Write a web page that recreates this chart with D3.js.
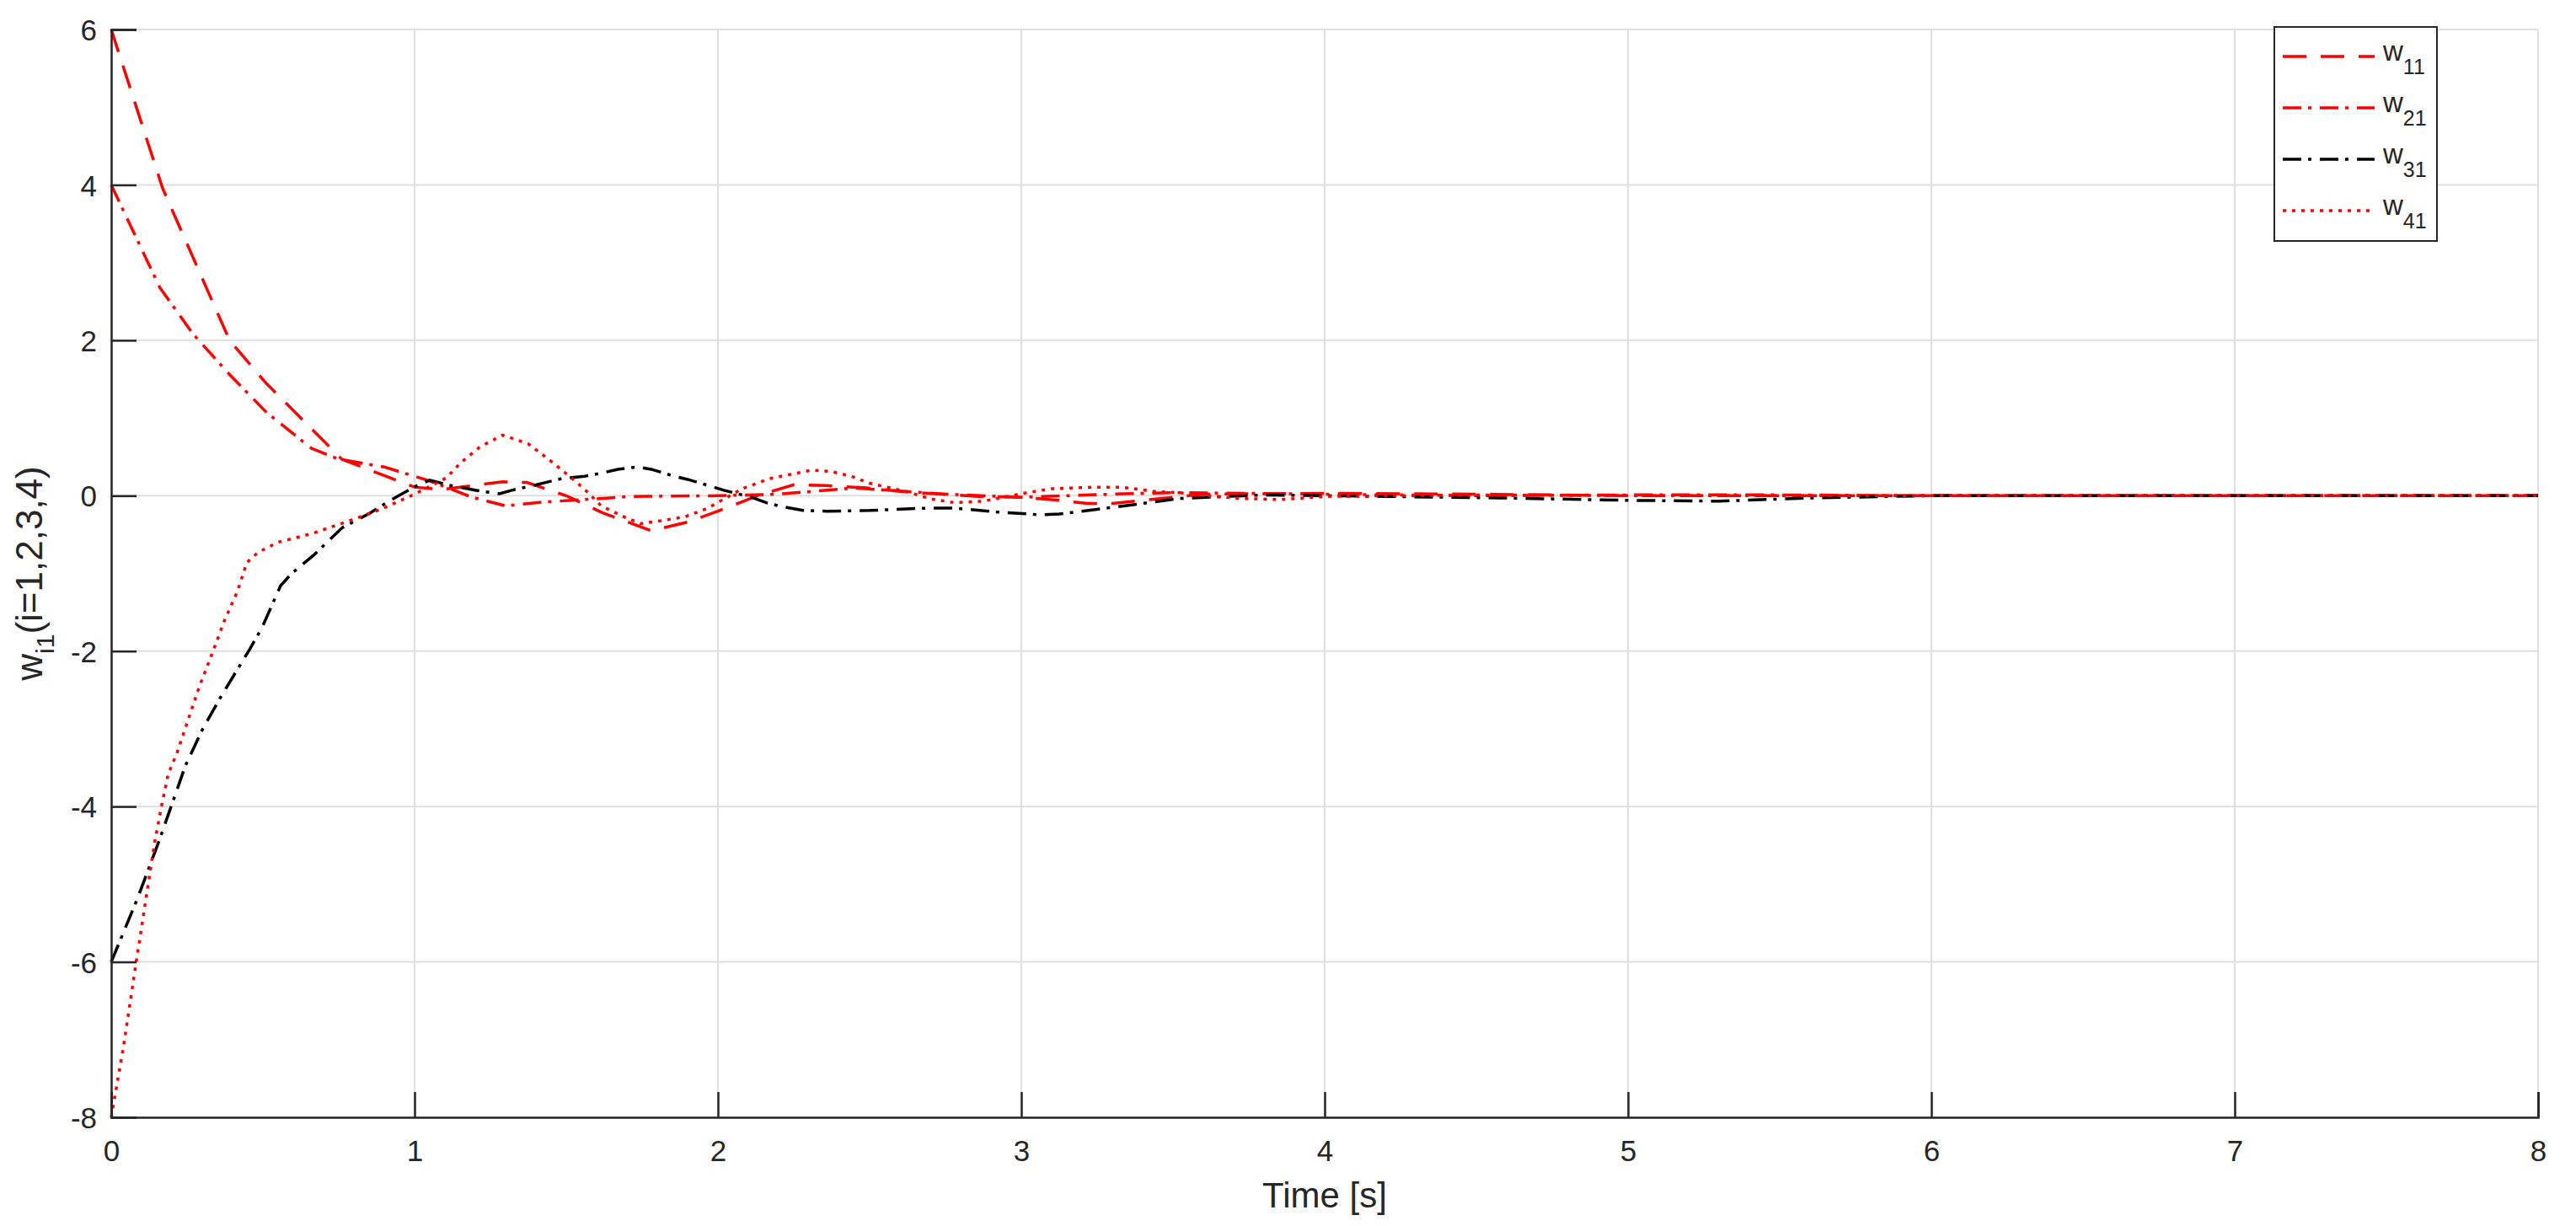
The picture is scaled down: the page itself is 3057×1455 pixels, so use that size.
<!DOCTYPE html>
<html>
<head>
<meta charset="utf-8">
<script src="https://d3js.org/d3.v7.min.js"></script>
<style>
  body { margin: 0; background: #fff; }
  svg text { font-family: "Liberation Sans", Arial, Helvetica, sans-serif; fill: #262626; }
</style>
</head>
<body>
<div id="container"></div>
<script>
var width = 3057;
var height = 1455;

// data
var t11 = [0, 0.17, 0.39, 0.51, 0.76, 1.0, 1.09, 1.29, 1.37, 1.5, 1.62, 1.78, 1.9, 2.0, 2.13, 2.25, 2.36, 2.49, 2.62, 2.74, 2.86, 3.0, 3.1, 3.22, 3.3, 3.45, 3.6, 4.0, 4.5, 5.0, 6.0, 7.0, 8.0];
var w11 = [6, 3.95, 2.0, 1.45, 0.47, 0.11, 0.08, 0.18, 0.17, 0.0, -0.22, -0.45, -0.34, -0.2, 0.0, 0.14, 0.13, 0.1, 0.05, 0.02, -0.01, -0.02, -0.05, -0.1, -0.1, -0.04, 0.02, 0.03, 0.02, 0.0, 0.0, 0, 0];

var t21 = [0, 0.16, 0.27, 0.39, 0.51, 0.66, 0.75, 0.9, 1.05, 1.19, 1.3, 1.43, 1.56, 1.71, 2.0, 2.2, 2.36, 2.45, 2.6, 2.75, 3.0, 3.3, 3.5, 4.0, 4.5, 5, 5.5, 6, 8];
var w21 = [4, 2.68, 2.08, 1.56, 1.08, 0.61, 0.47, 0.37, 0.19, -0.02, -0.13, -0.08, -0.05, -0.01, 0.0, 0.02, 0.07, 0.1, 0.06, 0.02, -0.02, 0.02, 0.04, 0.02, 0, 0.01, 0.01, 0, 0];

var t31 = [0, 0.086, 0.156, 0.211, 0.244, 0.299, 0.364, 0.456, 0.498, 0.558, 0.595, 0.669, 0.762, 0.855, 0.92, 1.003, 1.05, 1.12, 1.2, 1.28, 1.32, 1.39, 1.485, 1.56, 1.615, 1.67, 1.735, 1.78, 1.856, 1.9, 1.986, 2.02, 2.11, 2.16, 2.21, 2.28, 2.36, 2.5, 2.69, 2.78, 2.92, 3.06, 3.125, 3.2, 3.29, 3.38, 3.52, 3.8, 4.2, 4.6, 5.0, 5.3, 5.6, 6.0, 8];
var w31 = [-6, -5.19, -4.46, -3.85, -3.48, -3.02, -2.57, -1.98, -1.69, -1.16, -1.0, -0.76, -0.41, -0.22, -0.06, 0.12, 0.2, 0.13, 0.07, 0.025, 0.07, 0.13, 0.22, 0.25, 0.29, 0.34, 0.37, 0.34, 0.25, 0.21, 0.11, 0.07, -0.02, -0.09, -0.14, -0.19, -0.2, -0.19, -0.16, -0.16, -0.21, -0.245, -0.235, -0.2, -0.155, -0.11, -0.036, 0.01, -0.01, -0.03, -0.06, -0.07, -0.03, 0, 0];

var t41 = [0, 0.04, 0.082, 0.105, 0.123, 0.142, 0.165, 0.188, 0.216, 0.253, 0.29, 0.327, 0.373, 0.415, 0.447, 0.484, 0.549, 0.66, 0.78, 0.892, 1.0, 1.105, 1.151, 1.216, 1.29, 1.374, 1.448, 1.504, 1.559, 1.615, 1.689, 1.745, 1.8, 1.893, 1.967, 2.03, 2.08, 2.17, 2.31, 2.375, 2.44, 2.5, 2.625, 2.7, 2.78, 2.875, 3.02, 3.1, 3.245, 3.33, 3.45, 3.52, 3.7, 3.85, 4.0, 4.5, 5, 8];
var w41 = [-8, -7.1, -6.01, -5.43, -4.97, -4.49, -4.01, -3.58, -3.32, -2.89, -2.46, -2.09, -1.61, -1.24, -0.86, -0.73, -0.6, -0.49, -0.33, -0.17, 0.02, 0.23, 0.42, 0.63, 0.78, 0.67, 0.45, 0.27, 0.09, -0.13, -0.27, -0.36, -0.33, -0.27, -0.16, -0.02, 0.09, 0.22, 0.33, 0.31, 0.25, 0.16, 0.05, -0.04, -0.09, -0.07, 0.04, 0.09, 0.11, 0.11, 0.05, 0.04, -0.03, -0.05, -0.01, 0.01, 0, 0];

var xTicks = [0, 1, 2, 3, 4, 5, 6, 7, 8];
var yTicks = [-8, -6, -4, -2, 0, 2, 4, 6];
var legendSubs = ["11", "21", "31", "41"];

var series = [
    {sub: legendSubs[0], t: t11, v: w11, color: "#ff0000", dash: "28,17"},
    {sub: legendSubs[1], t: t21, v: w21, color: "#ff0000", dash: "22,8,4,10"},
    {sub: legendSubs[2], t: t31, v: w31, color: "#000000", dash: "22,8,4,10"},
    {sub: legendSubs[3], t: t41, v: w41, color: "#ff0000", dash: "4,7"}
];

var svg = d3.select("div#container").append("svg")
    .attr("width", width)
    .attr("height", height);

// plot area (avoid the global name "top")
var pLeft = 132, pRight = 3012, pTop = 35, pBottom = 1326;
var x = d3.scaleLinear().domain([0, 8]).range([pLeft, pRight]);
var y = d3.scaleLinear().domain([-8, 6]).range([pBottom, pTop]);

// grid
svg.append("g").selectAll("line").data(xTicks).enter().append("line")
    .attr("x1", d => x(d)).attr("x2", d => x(d))
    .attr("y1", pTop).attr("y2", pBottom)
    .attr("stroke", "#dfdfdf").attr("stroke-width", 2);
svg.append("g").selectAll("line").data(yTicks).enter().append("line")
    .attr("x1", pLeft).attr("x2", pRight)
    .attr("y1", d => y(d)).attr("y2", d => y(d))
    .attr("stroke", "#dfdfdf").attr("stroke-width", 2);

// curves
var line = d3.line()
    .x(d => x(d[0]))
    .y(d => y(d[1]));

series.forEach(function(s) {
    var pts = s.t.map(function(t, i) { return [t, s.v[i]]; });
    svg.append("path")
        .datum(pts)
        .attr("d", line)
        .attr("fill", "none")
        .attr("stroke", s.color)
        .attr("stroke-width", 3.5)
        .attr("stroke-dasharray", s.dash);
});

// axes, ticks pointing inward; plain hyphen for negatives like the original
var fmt = function(d) { return String(d); };
var xAxis = svg.append("g")
    .attr("transform", "translate(0," + pBottom + ")")
    .call(d3.axisBottom(x).tickValues(xTicks).tickSize(-30).tickPadding(15).tickFormat(fmt));
var yAxis = svg.append("g")
    .attr("transform", "translate(" + pLeft + ",0)")
    .call(d3.axisLeft(y).tickValues(yTicks).tickSize(-30).tickPadding(17).tickFormat(fmt));

[xAxis, yAxis].forEach(function(a) {
    a.select(".domain").attr("stroke", "#262626").attr("stroke-width", 2.5);
    a.selectAll(".tick line").attr("stroke", "#262626").attr("stroke-width", 2.5);
    a.selectAll(".tick text").attr("font-size", 35).attr("fill", "#262626")
        .style("font-family", "'Liberation Sans', Arial, sans-serif");
});
xAxis.selectAll(".tick text").attr("dy", "1.05em");
yAxis.selectAll(".tick text").attr("dy", "0.36em");

// axis labels
svg.append("text")
    .attr("x", (pLeft + pRight) / 2)
    .attr("y", 1433)
    .attr("text-anchor", "middle")
    .attr("font-size", 42)
    .text("Time [s]");

var yl = svg.append("text")
    .attr("transform", "translate(50," + ((pTop + pBottom) / 2) + ") rotate(-90)")
    .attr("text-anchor", "middle")
    .attr("font-size", 44);
yl.append("tspan").text("w");
yl.append("tspan").attr("font-size", 30).attr("dy", 14).text("i1");
yl.append("tspan").attr("dy", -14).text("(i=1,2,3,4)");

// legend
var lg = svg.append("g");
lg.append("rect")
    .attr("x", 2699).attr("y", 32)
    .attr("width", 193).attr("height", 254)
    .attr("fill", "#fff")
    .attr("stroke", "#262626").attr("stroke-width", 2);

series.forEach(function(s, i) {
    var ly = 67 + i * 61;
    lg.append("line")
        .attr("x1", 2709).attr("x2", 2818)
        .attr("y1", ly).attr("y2", ly)
        .attr("stroke", s.color).attr("stroke-width", 3.5)
        .attr("stroke-dasharray", s.dash);
    var tx = lg.append("text")
        .attr("x", 2828).attr("y", ly + 5)
        .attr("font-size", 33);
    tx.append("tspan").text("w");
    tx.append("tspan").attr("font-size", 25).attr("dy", 16).text(s.sub);
});
</script>
</body>
</html>
